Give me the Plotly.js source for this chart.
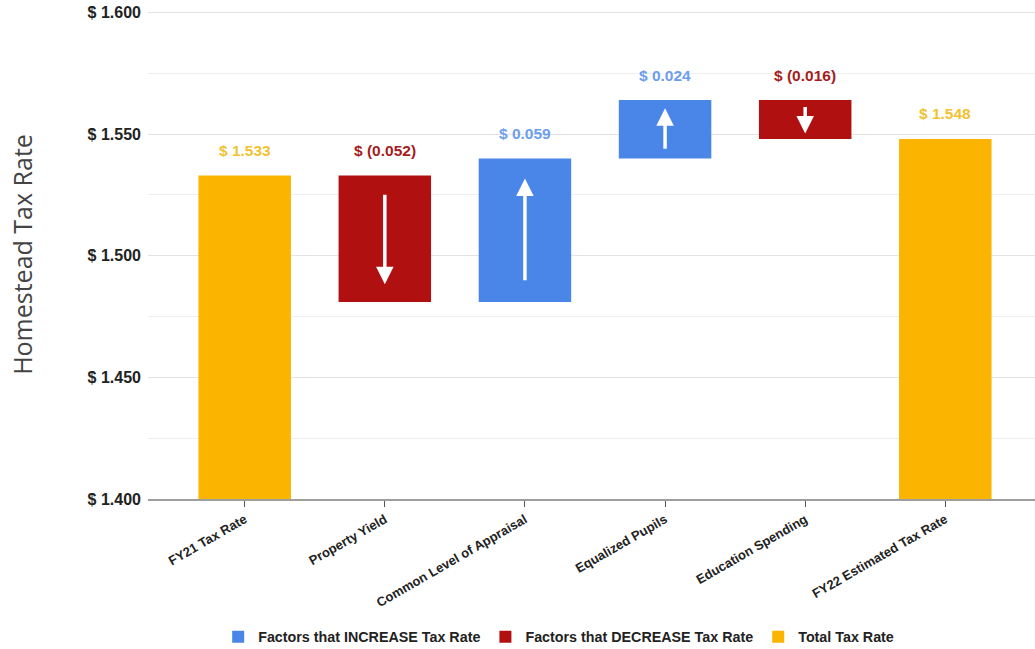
<!DOCTYPE html>
<html>
<head>
<meta charset="utf-8">
<script src="https://cdn.plot.ly/plotly-3.0.1.min.js"></script>
<style>html,body{margin:0;padding:0;background:#fff;}#chart{width:1035px;height:649px;}</style>
</head>
<body>
<div id="chart"></div>
<script>
const categories = ['FY21 Tax Rate', 'Property Yield', 'Common Level of Appraisal', 'Equalized Pupils', 'Education Spending', 'FY22 Estimated Tax Rate'];
const changes = [1.533, -0.052, 0.059, 0.024, -0.016, 1.548];
const kinds = ['total', 'decrease', 'increase', 'increase', 'decrease', 'total'];
const seriesNames = {increase: 'Factors that INCREASE Tax Rate', decrease: 'Factors that DECREASE Tax Rate', total: 'Total Tax Rate'};
const barColors = {increase: '#4a86e8', decrease: '#b01010', total: '#fbb400'};
const textColors = {increase: '#6d9eeb', decrease: '#a61c1c', total: '#f1c232'};

// compute bases and tops via running total
const bases = [], tops = [];
let running = 0;
changes.forEach((v, i) => {
  if (kinds[i] === 'total') { bases.push(0); tops.push(v); running = v; }
  else { bases.push(running); tops.push(running + v); running += v; }
});

function fmt(v, k) {
  if (k !== 'total' && v < 0) return '$ (' + Math.abs(v).toFixed(3) + ')';
  return '$ ' + v.toFixed(3);
}

const traces = ['increase', 'decrease', 'total'].map(k => {
  const xs = [], ys = [], bs = [];
  categories.forEach((c, i) => {
    if (kinds[i] === k) {
      xs.push(c);
      ys.push(changes[i]);
      bs.push(bases[i]);
    }
  });
  return {
    type: 'bar', name: seriesNames[k], x: xs, y: ys, base: bs,
    width: 0.66, marker: {color: barColors[k], line: {width: 0}},
    hoverinfo: 'skip'
  };
});

const annotations = [];
categories.forEach((c, i) => {
  const topVal = Math.max(bases[i], tops[i]);
  annotations.push({
    x: c, y: topVal, xref: 'x', yref: 'y', yanchor: 'middle', yshift: 25,
    text: fmt(changes[i], kinds[i]), showarrow: false,
    font: {family: 'Liberation Sans, Arial, sans-serif', size: 15.5, color: textColors[kinds[i]], weight: 'bold'}
  });
  if (kinds[i] !== 'total') {
    const d = changes[i];
    annotations.push({
      x: c, y: bases[i] + 0.86 * d, ax: c, ay: bases[i] + 0.14 * d,
      xref: 'x', yref: 'y', axref: 'x', ayref: 'y',
      showarrow: true, arrowhead: 2, arrowsize: 1, arrowwidth: 3.5, arrowcolor: '#ffffff', text: ''
    });
  }
});

const layout = {
  width: 1035, height: 649,
  margin: {l: 148, r: 0, t: 10, b: 150},
  paper_bgcolor: '#ffffff', plot_bgcolor: '#ffffff',
  barmode: 'overlay',
  showlegend: true,
  legend: {orientation: 'h', x: 0.463, xanchor: 'center', yref: 'container', y: 0.0185, yanchor: 'middle',
    font: {family: 'Liberation Sans, Arial, sans-serif', size: 14.3, color: '#222', weight: 'bold'},
    itemwidth: 30, traceorder: 'normal'},
  xaxis: {
    type: 'category', categoryorder: 'array', categoryarray: categories,
    range: [-0.69, 5.64], tickangle: -30, automargin: false,
    showline: true, linecolor: '#9e9e9e', linewidth: 2,
    ticks: 'outside', ticklen: 6, tickcolor: '#555', tickwidth: 1,
    showgrid: false, zeroline: false,
    tickfont: {family: 'Liberation Sans, Arial, sans-serif', size: 13, color: '#222', weight: 'bold'}
  },
  yaxis: {
    range: [1.4, 1.601], dtick: 0.05, tick0: 1.4, automargin: false,
    tickprefix: '$ ', tickformat: '.3f',
    showgrid: true, gridcolor: '#e3e3e3', gridwidth: 1,
    minor: {dtick: 0.025, showgrid: true, gridcolor: '#eeeeee', gridwidth: 1},
    zeroline: false, showline: false, ticks: '',
    ticklabelstandoff: 6,
    tickfont: {family: 'Liberation Sans, Arial, sans-serif', size: 16, color: '#222', weight: 'bold'},
    title: {text: 'Homestead Tax Rate', standoff: 47,
      font: {family: 'Open Sans, Noto Sans, sans-serif', size: 25, color: '#444'}}
  },
  annotations: annotations
};

Plotly.newPlot('chart', traces, layout, {displayModeBar: false, staticPlot: true});
</script>
</body>
</html>
